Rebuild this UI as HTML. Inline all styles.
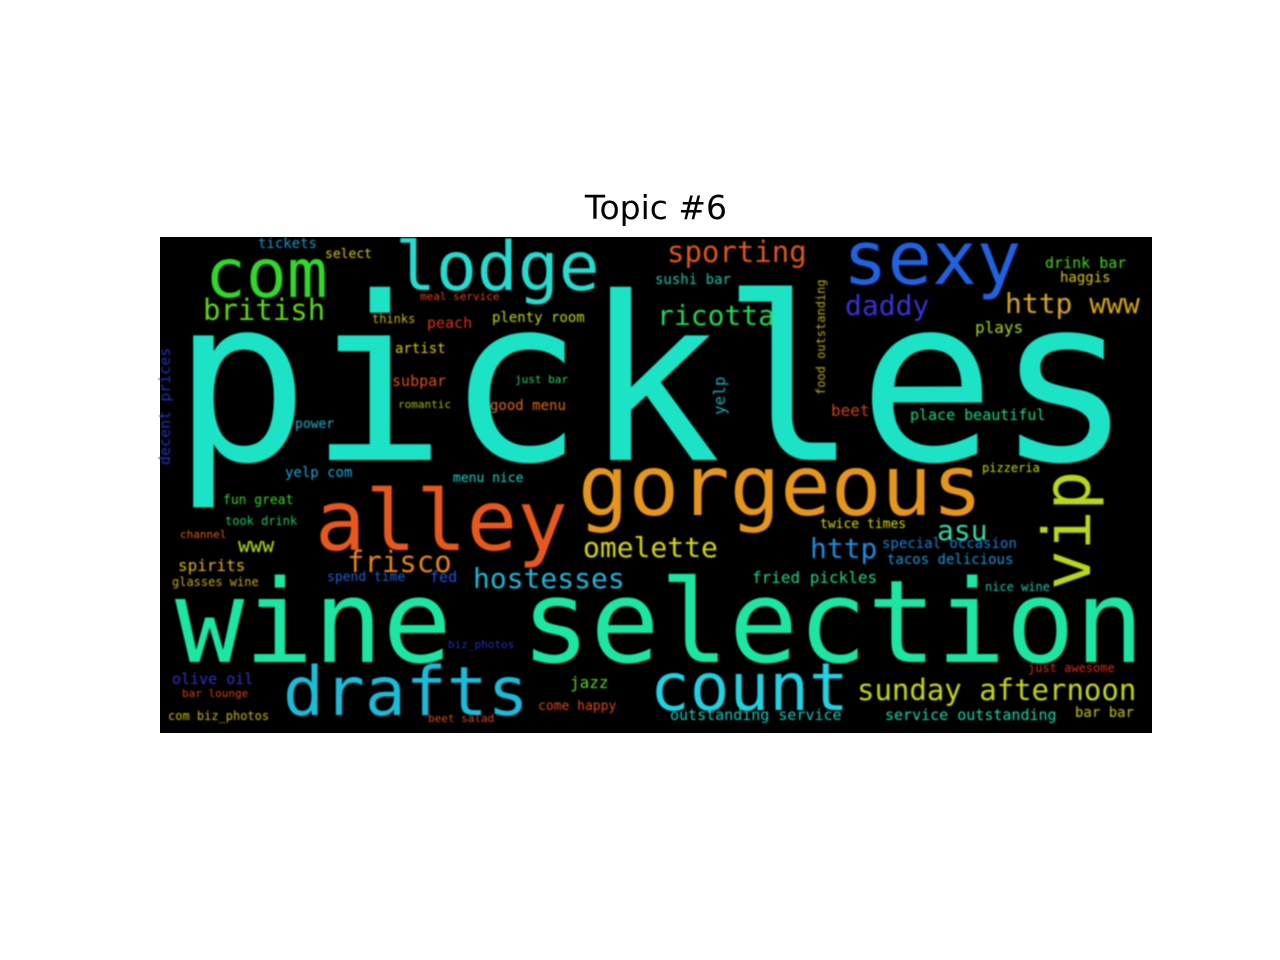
<!DOCTYPE html>
<html><head><meta charset="utf-8"><title>Topic #6</title>
<style>
html,body{margin:0;padding:0;background:#fff;}
#wrap{position:relative;width:1280px;height:960px;}
#title{position:absolute;left:0;width:1312px;top:188px;text-align:center;font-family:"DejaVu Sans","Liberation Sans",sans-serif;font-size:33px;color:#000;}
svg{position:absolute;left:0;top:0;}
</style></head><body>
<div id="wrap">
<div id="title">Topic #6</div>
<svg id="cloud" width="1280" height="960">
<rect x="160" y="237" width="992" height="496" fill="#000"/>
<g id="words" font-family="DejaVu Sans Mono, Liberation Mono, monospace" filter="url(#soft)"></g>
<defs><filter id="soft"><feGaussianBlur stdDeviation="0.7"/></filter></defs>
</svg>
</div>
<script>
const words = ["pickles","wine selection","gorgeous","alley","drafts","count","lodge","com","sexy","vip","sporting","daddy","http www","british","ricotta","frisco","omelette","hostesses","http","asu","sunday afternoon",
"sushi bar","drink bar","haggis","plays","peach","plenty room","thinks","artist","subpar","good menu","just bar","romantic","beet","place beautiful","power","yelp com","menu nice","pizzeria","fun great","took drink","twice times","special occasion","www","spirits","tacos delicious","spend time","fed","fried pickles","nice wine","glasses wine","olive oil","bar lounge","jazz","come happy","outstanding service","service outstanding","bar bar","just awesome","com biz_photos","tickets","select","meal service","biz_photos","channel","beet salad","yelp","food outstanding","decent prices"];
const wx = [172,175,578,315,283,650,395,205,843,1090,667,845,1005,203,657,347,583,473,810,937,857,
655,1045,1060,975,427,492,372,395,392,490,515,398,831,910,295,285,453,982,223,225,820,882,238,178,887,327,430,752,985,172,172,182,570,538,670,885,1075,1028,168,258,325,420,448,180,428,725,825,170];
const wy = [460,662,515,550,715,710,290,297,284,590,262,315,313,320,325,572,557,588,558,540,700,
284,268,282,333,328,322,323,353,386,410,383,408,416,420,428,477,482,472,504,525,528,548,552,571,564,581,582,583,591,586,684,697,688,710,720,720,717,672,720,248,258,300,648,538,722,415,395,465];
const wsize = [228,115,84,84,68,66,68,68,74,66,29,28,28,29,28,29,28,28,28,28,29,
14,15,14,16,15,14,12,14,15,14,11,11,16,15,13,14,13,12,13,12,13,14,20,16,14,13,15,16,12,12,15,11,16,13,15,15,14,12,12,14,13,11,11,11,11,16,12,15];
const wcolor = ["#1ee3c6","#1ee6a2","#e6961e","#e8581e","#1ebcd8","#22d2e2","#28dccf","#30d82a","#2062e0","#b8d81e","#e05a1e","#3a30d8","#d8a81e","#5ed81e","#28d858","#e8861e","#d8d81e","#28b8d8","#1e90e0","#3ad8a8","#c8d81e",
"#1ec8a8","#4ad81e","#d8c81e","#a8d81e","#e0301e","#b8d81e","#c8b81e","#d8c81e","#e0501e","#e06a1e","#2ad868","#a8b81e","#d8401e","#1ed888","#1eb8c8","#1ea8d8","#1ed8c8","#c8d81e","#3ad81e","#1ec868","#d8d81e","#1e80d8","#b8e81e","#d8b81e","#1e98d8","#1e60d8","#2050e0","#1ed888","#1ec8a8","#c8a81e","#3030c8","#d8401e","#58d81e","#d84a1e","#1ec8b8","#1ed8a8","#c8c81e","#d8281e","#c8b81e","#1e98c8","#d8c81e","#e0401e","#2030b8","#d8601e","#d84a1e","#1ea8b8","#b8a81e","#2030b8"];
const wrot = [0,0,0,0,0,0,0,0,0,-90,0,0,0,0,0,0,0,0,0,0,0,
0,0,0,0,0,0,0,0,0,0,0,0,0,0,0,0,0,0,0,0,0,0,0,0,0,0,0,0,0,0,0,0,0,0,0,0,0,0,0,0,0,0,0,0,0,-90,-90,-90];
const g = document.getElementById('words');
const NS = 'http://www.w3.org/2000/svg';
words.forEach((w, i) => {
  const t = document.createElementNS(NS, 'text');
  
  
  t.setAttribute('font-size', wsize[i]);
  t.setAttribute('fill', wcolor[i]);
  t.setAttribute('textLength', (w.length * wsize[i] * 0.602).toFixed(1));
  t.setAttribute('lengthAdjust', 'spacingAndGlyphs');
  if (wrot[i]) {
    t.setAttribute('x', 0); t.setAttribute('y', 0);
    t.setAttribute('transform', 'translate(' + wx[i] + ',' + wy[i] + ') rotate(' + wrot[i] + ')');
  } else {
    t.setAttribute('x', wx[i]); t.setAttribute('y', wy[i]);
  }
  t.textContent = w;
  g.appendChild(t);
});
</script>
</body></html>
